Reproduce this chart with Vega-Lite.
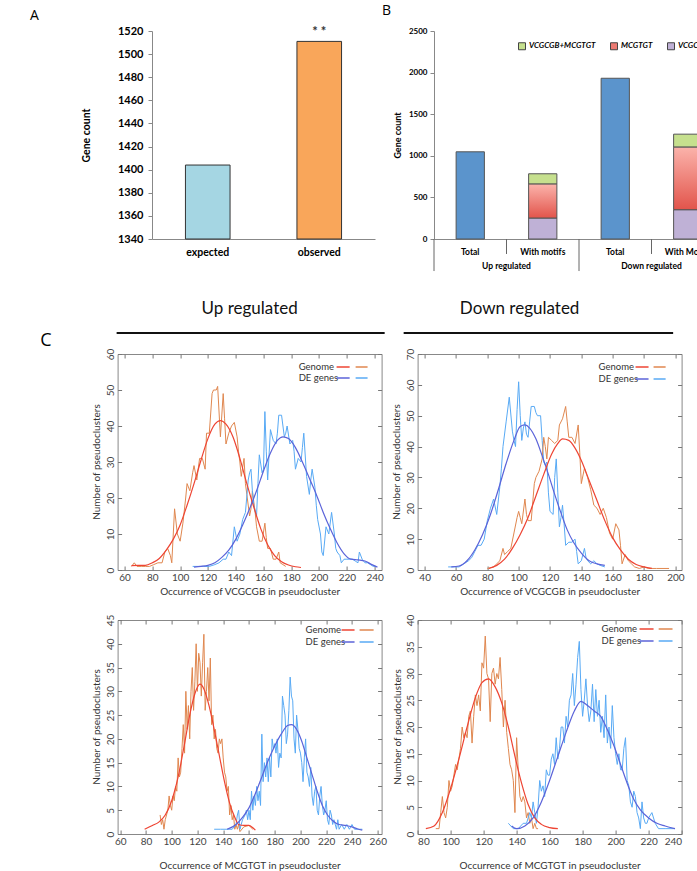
{
"$schema":"https://vega.github.io/schema/vega-lite/v6.json",
"padding":{"left":3,"top":4,"right":0,"bottom":0},
"spacing":27,
"config":{"view":{"stroke":null},"font":"Lato","axis":{"grid":false,"labelFont":"Lato","titleFont":"Lato","domainColor":"#888","tickColor":"#888"},"legend":{"labelFont":"Lato","titleFont":"Lato","padding":0},"title":{"font":"Lato"}},
"resolve":{"scale":{"fill":"independent","color":"independent","stroke":"independent"},"legend":{"fill":"independent","color":"independent","stroke":"independent"}},
"vconcat":[
{"hconcat":[
{"width":0,"height":0,"data":{"values":[]},"mark":"point"},
{"width":223,"height":208,
"title":{"text":"A","anchor":"start","frame":"group","dx":-122,"offset":2,"fontSize":14,"fontWeight":"normal","font":"Open Sans","color":"#000"},
"data":{"values":[{"cond":"expected","count":1404},{"cond":"observed","count":1511}]},
"layer":[
{"mark":{"type":"bar","stroke":"#333","strokeWidth":1},
"encoding":{
"x":{"field":"cond","type":"nominal","scale":{"paddingInner":0.6,"paddingOuter":0.3},"axis":{"title":null,"labelAngle":0,"labelFontWeight":"bold","labelFontSize":10.5,"labelColor":"#000","labelPadding":8,"ticks":false,"domainColor":"#888"}},
"y":{"field":"count","type":"quantitative","scale":{"domain":[1340,1520],"nice":false,"zero":false},"axis":{"values":[1340,1360,1380,1400,1420,1440,1460,1480,1500,1520],"format":"d","title":"Gene count","titleFontSize":10.5,"titleFontWeight":"bold","titleColor":"#000","titlePadding":26,"labelFontWeight":"bold","labelFontSize":11,"labelColor":"#000","tickSize":4,"labelPadding":5}},
"y2":{"datum":1340},
"fill":{"field":"cond","type":"nominal","scale":{"domain":["expected","observed"],"range":["#a5d6e3","#f9a65a"]},"legend":null}}},
{"transform":[{"filter":"datum.cond === 'observed'"}],
"mark":{"type":"text","text":"* *","fontSize":13,"fontWeight":"bold","baseline":"bottom","dy":-2,"font":"Lato","color":"#333"},
"encoding":{"x":{"field":"cond","type":"nominal","axis":null},"y":{"field":"count","type":"quantitative","axis":null}}}
],
"resolve":{"axis":{"x":"independent","y":"independent"}}},
{"width":290,"height":208,
"title":{"text":"B","anchor":"start","frame":"group","dx":-52,"offset":9,"fontSize":14,"fontWeight":"normal","font":"Open Sans","color":"#000"},
"layer":[
{"data":{"values":[
{"cat":"Up Total","type":"Total","count":1048,"ord":1},
{"cat":"Up With motifs","type":"VCGCGB","count":252,"ord":1},
{"cat":"Up With motifs","type":"MCGTGT","count":408,"ord":2},
{"cat":"Up With motifs","type":"VCGCGB+MCGTGT","count":124,"ord":3},
{"cat":"Down Total","type":"Total","count":1932,"ord":1},
{"cat":"Down With Motifs","type":"VCGCGB","count":352,"ord":1},
{"cat":"Down With Motifs","type":"MCGTGT","count":752,"ord":2},
{"cat":"Down With Motifs","type":"VCGCGB+MCGTGT","count":156,"ord":3}]},
"transform":[{"stack":"count","groupby":["cat"],"sort":[{"field":"ord","order":"ascending"}],"as":["y0","y1"]}],
"layer":[
{"transform":[{"filter":"datum.type !== 'MCGTGT'"}],
"mark":{"type":"bar","stroke":"#555","strokeWidth":1},
"encoding":{
"x":{"field":"cat","type":"nominal","scale":{"domain":["Up Total","Up With motifs","Down Total","Down With Motifs"],"paddingInner":0.61,"paddingOuter":0.305},"axis":{"title":null,"labelAngle":0,"labelExpr":"slice(datum.label, indexof(datum.label, ' ') + 1)","labelFontWeight":"bold","labelFontSize":8.5,"labelColor":"#000","labelPadding":8,"ticks":false,"domainColor":"#888"}},
"y":{"field":"y1","type":"quantitative","scale":{"domain":[0,2500],"nice":false},"axis":{"values":[0,500,1000,1500,2000,2500],"format":"d","title":"Gene count","titleFontSize":9,"titleFontWeight":"bold","titleColor":"#000","titlePadding":6,"labelFontWeight":"bold","labelFontSize":8,"labelColor":"#000","tickSize":4,"labelPadding":3}},
"y2":{"field":"y0"},
"fill":{"field":"type","type":"nominal","scale":{"domain":["VCGCGB+MCGTGT","MCGTGT","VCGCGB","Total"],"range":["#c6e08e","#ec7a72","#bfb1d6","#5b94cc"]},
"legend":{"values":["VCGCGB+MCGTGT","MCGTGT","VCGCGB"],"orient":"none","legendX":84,"legendY":11,"direction":"horizontal","title":null,"symbolType":"square","symbolSize":49,"symbolStrokeColor":"#444","symbolStrokeWidth":1,"labelFont":"Lato","labelFontSize":8,"labelFontStyle":"italic","labelFontWeight":"bold","labelColor":"#000","columnPadding":12,"labelOffset":3}}}},
{"transform":[{"filter":"datum.type === 'MCGTGT'"}],
"mark":{"type":"bar","stroke":"#555","strokeWidth":1,"fill":{"gradient":"linear","x1":0,"y1":0,"x2":0,"y2":1,"stops":[{"offset":0,"color":"#fbb3ab"},{"offset":1,"color":"#e2544b"}]}},
"encoding":{"x":{"field":"cat","type":"nominal","axis":null},"y":{"field":"y1","type":"quantitative","axis":null},"y2":{"field":"y0"}}}
],
"resolve":{"axis":{"x":"independent","y":"independent"}}},
{"data":{"values":[{"grp":"Up regulated"},{"grp":"Down regulated"}]},
"encoding":{"x":{"field":"grp","type":"nominal","scale":{"domain":["Up regulated","Down regulated"],"paddingInner":0,"paddingOuter":0},"axis":null}},
"layer":[
{"mark":{"type":"text","font":"Lato","fontWeight":"bold","fontSize":8.5,"baseline":"middle","color":"#000"},
"encoding":{"text":{"field":"grp"},"y":{"datum":-325,"type":"quantitative","scale":{"domain":[0,2500],"nice":false},"axis":null}}},
{"mark":{"type":"rule","color":"#666","strokeWidth":1},
"encoding":{"x":{"field":"grp","type":"nominal","bandPosition":0,"axis":null},"y":{"datum":0,"type":"quantitative","scale":{"domain":[0,2500],"nice":false},"axis":null},"y2":{"datum":-385}}},
{"mark":{"type":"rule","color":"#666","strokeWidth":1},
"encoding":{"y":{"datum":0,"type":"quantitative","scale":{"domain":[0,2500],"nice":false},"axis":null},"y2":{"datum":-180}}}
],
"resolve":{"axis":{"x":"independent","y":"independent"}}}
],
"resolve":{"scale":{"x":"independent"},"axis":{"x":"independent","y":"independent"}}}
],"spacing":7,
"resolve":{"scale":{"fill":"independent"},"legend":{"fill":"independent"}}},
{"hconcat":[
{"width":0,"height":0,"data":{"values":[]},"mark":"point"},
{"columns":2,"bounds":"flush","spacing":{"row":50,"column":36},
"resolve":{"scale":{"color":"independent","stroke":"independent"},"legend":{"color":"independent","stroke":"independent"}},
"concat":[
{"width":264,"height":216,"view":{"stroke":"#888"},
"title":{"text":"Up regulated","fontSize":17,"fontWeight":"normal","font":"Lato","color":"#111","offset":14,"anchor":"middle","frame":"group"},
"layer":[
{"data":{"values":[
{"s":"Genome","x":65,"y":1},{"s":"Genome","x":67,"y":2},{"s":"Genome","x":69,"y":1},{"s":"Genome","x":72,"y":1},{"s":"Genome","x":75,"y":1},{"s":"Genome","x":78,"y":1},{"s":"Genome","x":81,"y":1.5},{"s":"Genome","x":84,"y":2},{"s":"Genome","x":87,"y":2},{"s":"Genome","x":89,"y":5},{"s":"Genome","x":91,"y":6},{"s":"Genome","x":93,"y":4},{"s":"Genome","x":94,"y":2},{"s":"Genome","x":96,"y":17},{"s":"Genome","x":98,"y":10},{"s":"Genome","x":100,"y":8},{"s":"Genome","x":102,"y":13},{"s":"Genome","x":104,"y":20},{"s":"Genome","x":105,"y":24},{"s":"Genome","x":107,"y":22},{"s":"Genome","x":109,"y":27},{"s":"Genome","x":110,"y":29},{"s":"Genome","x":112,"y":25},{"s":"Genome","x":114,"y":31},{"s":"Genome","x":116,"y":31},{"s":"Genome","x":118,"y":28},{"s":"Genome","x":119,"y":38},{"s":"Genome","x":121,"y":38},{"s":"Genome","x":123,"y":49},{"s":"Genome","x":124,"y":50},{"s":"Genome","x":126,"y":50},{"s":"Genome","x":127,"y":51},{"s":"Genome","x":129,"y":37},{"s":"Genome","x":131,"y":49},{"s":"Genome","x":132,"y":42},{"s":"Genome","x":133,"y":35},{"s":"Genome","x":135,"y":38},{"s":"Genome","x":137,"y":40},{"s":"Genome","x":139,"y":41},{"s":"Genome","x":141,"y":37},{"s":"Genome","x":142,"y":33},{"s":"Genome","x":143,"y":30},{"s":"Genome","x":144,"y":26},{"s":"Genome","x":146,"y":31},{"s":"Genome","x":147,"y":24},{"s":"Genome","x":148,"y":21},{"s":"Genome","x":150,"y":15},{"s":"Genome","x":151,"y":17},{"s":"Genome","x":152,"y":22},{"s":"Genome","x":154,"y":16},{"s":"Genome","x":155,"y":12},{"s":"Genome","x":157,"y":8},{"s":"Genome","x":159,"y":8},{"s":"Genome","x":161,"y":13},{"s":"Genome","x":162,"y":9},{"s":"Genome","x":163,"y":6},{"s":"Genome","x":165,"y":6},{"s":"Genome","x":167,"y":3},{"s":"Genome","x":169,"y":3},{"s":"Genome","x":171,"y":5},{"s":"Genome","x":172,"y":2},{"s":"Genome","x":174,"y":1.5},{"s":"Genome","x":176,"y":1},
{"s":"DE genes","x":109,"y":1},{"s":"DE genes","x":113,"y":1},{"s":"DE genes","x":117,"y":1},{"s":"DE genes","x":121,"y":1},{"s":"DE genes","x":125,"y":1.5},{"s":"DE genes","x":128,"y":2},{"s":"DE genes","x":131,"y":3},{"s":"DE genes","x":133,"y":3},{"s":"DE genes","x":135,"y":5},{"s":"DE genes","x":137,"y":4},{"s":"DE genes","x":139,"y":12},{"s":"DE genes","x":141,"y":8},{"s":"DE genes","x":143,"y":10},{"s":"DE genes","x":145,"y":14},{"s":"DE genes","x":147,"y":16},{"s":"DE genes","x":149,"y":25},{"s":"DE genes","x":150,"y":27},{"s":"DE genes","x":151,"y":28},{"s":"DE genes","x":152,"y":22},{"s":"DE genes","x":153,"y":18},{"s":"DE genes","x":155,"y":15},{"s":"DE genes","x":156,"y":24},{"s":"DE genes","x":157,"y":32},{"s":"DE genes","x":159,"y":27},{"s":"DE genes","x":160,"y":28},{"s":"DE genes","x":161,"y":44},{"s":"DE genes","x":162,"y":33},{"s":"DE genes","x":163,"y":25},{"s":"DE genes","x":164,"y":32},{"s":"DE genes","x":165,"y":39},{"s":"DE genes","x":167,"y":36},{"s":"DE genes","x":169,"y":35},{"s":"DE genes","x":170,"y":38},{"s":"DE genes","x":171,"y":43},{"s":"DE genes","x":173,"y":43},{"s":"DE genes","x":175,"y":37},{"s":"DE genes","x":176,"y":38},{"s":"DE genes","x":177,"y":40},{"s":"DE genes","x":179,"y":35},{"s":"DE genes","x":181,"y":36},{"s":"DE genes","x":182,"y":33},{"s":"DE genes","x":183,"y":28},{"s":"DE genes","x":185,"y":31},{"s":"DE genes","x":187,"y":30},{"s":"DE genes","x":188,"y":34},{"s":"DE genes","x":189,"y":38},{"s":"DE genes","x":191,"y":26},{"s":"DE genes","x":193,"y":21},{"s":"DE genes","x":194,"y":25},{"s":"DE genes","x":195,"y":28},{"s":"DE genes","x":197,"y":23},{"s":"DE genes","x":198,"y":18},{"s":"DE genes","x":199,"y":14},{"s":"DE genes","x":201,"y":10},{"s":"DE genes","x":202,"y":5},{"s":"DE genes","x":203,"y":4},{"s":"DE genes","x":205,"y":12},{"s":"DE genes","x":207,"y":10},{"s":"DE genes","x":209,"y":16},{"s":"DE genes","x":211,"y":10},{"s":"DE genes","x":212,"y":6},{"s":"DE genes","x":213,"y":5},{"s":"DE genes","x":215,"y":4},{"s":"DE genes","x":216,"y":2},{"s":"DE genes","x":218,"y":3},{"s":"DE genes","x":220,"y":3},{"s":"DE genes","x":222,"y":3},{"s":"DE genes","x":224,"y":3},{"s":"DE genes","x":226,"y":2.5},{"s":"DE genes","x":228,"y":2},{"s":"DE genes","x":229,"y":5},{"s":"DE genes","x":231,"y":3},{"s":"DE genes","x":233,"y":2},{"s":"DE genes","x":235,"y":2},{"s":"DE genes","x":237,"y":1.5},{"s":"DE genes","x":239,"y":1},{"s":"DE genes","x":241,"y":1}]},
"mark":{"type":"line","strokeWidth":1},
"encoding":{
"x":{"field":"x","type":"quantitative","scale":{"domain":[55,245],"nice":false,"zero":false},"axis":{"orient":"bottom","values":[60,80,100,120,140,160,180,200,220,240],"title":"Occurrence of VCGCGB in pseudocluster","titleFontSize":10,"titleFontWeight":"normal","titleColor":"#333","titlePadding":4,"labelFontSize":10,"labelColor":"#444","labelPadding":6,"tickSize":-4,"tickColor":"#777","domain":false}},
"y":{"field":"y","type":"quantitative","scale":{"domain":[0,60],"nice":false},"axis":{"orient":"left","values":[0,10,20,30,40,50,60],"title":null,"labelFontSize":10,"labelColor":"#444","labelPadding":6,"labelAngle":-90,"labelAlign":"center","labelBaseline":"bottom","tickSize":-4,"tickColor":"#777","domain":false}},
"stroke":{"field":"s","type":"nominal","scale":{"domain":["Genome","DE genes"],"range":["#e0874f","#58aaf5"]},"legend":null}}},
{"data":{"values":[
{"g":"Genome","x":65,"y":1.2},{"g":"Genome","x":70,"y":1.3},{"g":"Genome","x":75,"y":1.3},{"g":"Genome","x":80,"y":2},{"g":"Genome","x":85,"y":3.2},{"g":"Genome","x":90,"y":5.5},{"g":"Genome","x":95,"y":8.5},{"g":"Genome","x":100,"y":12.5},{"g":"Genome","x":105,"y":18},{"g":"Genome","x":110,"y":24},{"g":"Genome","x":115,"y":30.5},{"g":"Genome","x":120,"y":36.5},{"g":"Genome","x":125,"y":40.5},{"g":"Genome","x":129,"y":41.5},{"g":"Genome","x":133,"y":40.5},{"g":"Genome","x":138,"y":37},{"g":"Genome","x":143,"y":31},{"g":"Genome","x":148,"y":24},{"g":"Genome","x":153,"y":17.5},{"g":"Genome","x":158,"y":11.5},{"g":"Genome","x":163,"y":7},{"g":"Genome","x":168,"y":4},{"g":"Genome","x":173,"y":2.3},{"g":"Genome","x":178,"y":1.4},{"g":"Genome","x":183,"y":0.9},{"g":"Genome","x":187,"y":0.7},
{"g":"DE genes","x":110,"y":0.8},{"g":"DE genes","x":115,"y":1},{"g":"DE genes","x":120,"y":1.3},{"g":"DE genes","x":125,"y":2},{"g":"DE genes","x":130,"y":3.5},{"g":"DE genes","x":135,"y":5.5},{"g":"DE genes","x":140,"y":8.5},{"g":"DE genes","x":145,"y":12.5},{"g":"DE genes","x":150,"y":17},{"g":"DE genes","x":155,"y":22},{"g":"DE genes","x":160,"y":27.5},{"g":"DE genes","x":165,"y":32.5},{"g":"DE genes","x":170,"y":36},{"g":"DE genes","x":174,"y":37},{"g":"DE genes","x":178,"y":36.5},{"g":"DE genes","x":183,"y":34},{"g":"DE genes","x":188,"y":30},{"g":"DE genes","x":193,"y":25.5},{"g":"DE genes","x":198,"y":21},{"g":"DE genes","x":203,"y":16},{"g":"DE genes","x":208,"y":11.5},{"g":"DE genes","x":213,"y":7.5},{"g":"DE genes","x":218,"y":4.5},{"g":"DE genes","x":223,"y":3},{"g":"DE genes","x":228,"y":2.8},{"g":"DE genes","x":233,"y":2.5},{"g":"DE genes","x":238,"y":1.5},{"g":"DE genes","x":242,"y":0.8}]},
"mark":{"type":"line","strokeWidth":1.2,"interpolate":"monotone"},
"encoding":{
"x":{"field":"x","type":"quantitative","scale":{"domain":[55,245],"nice":false,"zero":false},"axis":{"orient":"top","values":[60,80,100,120,140,160,180,200,220,240],"labels":false,"title":null,"tickSize":-4,"tickColor":"#777","domain":false}},
"y":{"field":"y","type":"quantitative","scale":{"domain":[0,60],"nice":false},"axis":{"orient":"right","values":[0,10,20,30,40,50,60],"labels":false,"title":null,"tickSize":-4,"tickColor":"#777","domain":false}},
"color":{"field":"g","type":"nominal","scale":{"domain":["Genome","DE genes"],"range":["#ee4433","#5b63d9"]},"legend":null}}},
{"data":{"values":[{}]},"mark":{"type":"rule","color":"#111","strokeWidth":2},
"encoding":{"x":{"datum":54.3,"type":"quantitative","scale":{"domain":[55,245],"nice":false,"zero":false},"axis":null},"x2":{"datum":247.2},"y":{"datum":65.8,"type":"quantitative","scale":{"domain":[0,60],"nice":false},"axis":null}}},
{"data":{"values":[{"t":"C"}]},"mark":{"type":"text","fontSize":18,"font":"Open Sans","align":"left","baseline":"middle","color":"#000"},
"encoding":{"text":{"field":"t"},"x":{"datum":-0.7,"type":"quantitative","scale":{"domain":[55,245],"nice":false,"zero":false},"axis":null},"y":{"datum":63.6,"type":"quantitative","scale":{"domain":[0,60],"nice":false},"axis":null}}},
{"data":{"values":[{"t":"Number of pseudoclusters"}]},"mark":{"type":"text","angle":270,"fontSize":10,"font":"Lato","align":"center","baseline":"middle","color":"#333"},
"encoding":{"text":{"field":"t"},"x":{"datum":39.9,"type":"quantitative","scale":{"domain":[55,245],"nice":false,"zero":false},"axis":null},"y":{"datum":30,"type":"quantitative","scale":{"domain":[0,60],"nice":false},"axis":null}}},
{"data":{"values":[{"t":"Genome"},{"t":"DE genes"}]},
"encoding":{"x":{"datum":185.3,"type":"quantitative","scale":{"domain":[55,245],"nice":false,"zero":false},"axis":null},"y":{"field":"t","type":"nominal","scale":{"type":"point","padding":0,"domain":["Genome","DE genes"],"range":[13,24]},"axis":null}},
"layer":[
{"mark":{"type":"text","font":"Lato","fontSize":9.5,"align":"left","baseline":"middle","color":"#333"},"encoding":{"text":{"field":"t"}}},
{"mark":{"type":"rule","strokeWidth":1.5},"encoding":{"x":{"datum":212.6,"type":"quantitative"},"x2":{"datum":222.0},"color":{"field":"t","type":"nominal","scale":{"domain":["Genome","DE genes"],"range":["#ee4433","#5b63d9"]},"legend":null}}},
{"mark":{"type":"rule","strokeWidth":1.5},"encoding":{"x":{"datum":226.3,"type":"quantitative"},"x2":{"datum":234.9},"stroke":{"field":"t","type":"nominal","scale":{"domain":["Genome","DE genes"],"range":["#e0874f","#58aaf5"]},"legend":null}}}
]}
],
"resolve":{"scale":{"y":"independent"}}},
{"width":264,"height":216,"view":{"stroke":"#888"},
"title":{"text":"Down regulated","fontSize":17,"fontWeight":"normal","font":"Lato","color":"#111","offset":14,"anchor":"middle","frame":"group","dx":-30},
"layer":[
{"data":{"values":[
{"s":"DE genes","x":55,"y":1},{"s":"DE genes","x":59,"y":1},{"s":"DE genes","x":62,"y":1},{"s":"DE genes","x":65,"y":2},{"s":"DE genes","x":68,"y":3},{"s":"DE genes","x":70,"y":4},{"s":"DE genes","x":72,"y":6},{"s":"DE genes","x":74,"y":8},{"s":"DE genes","x":76,"y":8},{"s":"DE genes","x":78,"y":10},{"s":"DE genes","x":80,"y":16},{"s":"DE genes","x":82,"y":20},{"s":"DE genes","x":84,"y":23},{"s":"DE genes","x":86,"y":18},{"s":"DE genes","x":88,"y":27},{"s":"DE genes","x":89,"y":33},{"s":"DE genes","x":90,"y":40},{"s":"DE genes","x":92,"y":48},{"s":"DE genes","x":94,"y":56},{"s":"DE genes","x":96,"y":45},{"s":"DE genes","x":97,"y":42},{"s":"DE genes","x":98,"y":40},{"s":"DE genes","x":99,"y":52},{"s":"DE genes","x":100,"y":61},{"s":"DE genes","x":101,"y":50},{"s":"DE genes","x":102,"y":42},{"s":"DE genes","x":103,"y":46},{"s":"DE genes","x":104,"y":48},{"s":"DE genes","x":105,"y":44},{"s":"DE genes","x":106,"y":43},{"s":"DE genes","x":107,"y":48},{"s":"DE genes","x":108,"y":53},{"s":"DE genes","x":110,"y":53},{"s":"DE genes","x":111,"y":51},{"s":"DE genes","x":112,"y":50},{"s":"DE genes","x":114,"y":50},{"s":"DE genes","x":115,"y":42},{"s":"DE genes","x":116,"y":35},{"s":"DE genes","x":117,"y":34},{"s":"DE genes","x":118,"y":35},{"s":"DE genes","x":119,"y":25},{"s":"DE genes","x":120,"y":19},{"s":"DE genes","x":122,"y":18},{"s":"DE genes","x":123,"y":30},{"s":"DE genes","x":124,"y":36},{"s":"DE genes","x":125,"y":25},{"s":"DE genes","x":126,"y":14},{"s":"DE genes","x":127,"y":17},{"s":"DE genes","x":128,"y":21},{"s":"DE genes","x":129,"y":15},{"s":"DE genes","x":130,"y":8},{"s":"DE genes","x":132,"y":9},{"s":"DE genes","x":134,"y":9},{"s":"DE genes","x":136,"y":10},{"s":"DE genes","x":137,"y":6},{"s":"DE genes","x":138,"y":2},{"s":"DE genes","x":140,"y":3},{"s":"DE genes","x":142,"y":7},{"s":"DE genes","x":143,"y":4},{"s":"DE genes","x":144,"y":3},{"s":"DE genes","x":146,"y":2},{"s":"DE genes","x":148,"y":3},{"s":"DE genes","x":150,"y":2},{"s":"DE genes","x":152,"y":1.5},{"s":"DE genes","x":155,"y":1},
{"s":"Genome","x":80,"y":0.5},{"s":"Genome","x":84,"y":1},{"s":"Genome","x":86,"y":2},{"s":"Genome","x":88,"y":3},{"s":"Genome","x":90,"y":7},{"s":"Genome","x":91,"y":5},{"s":"Genome","x":93,"y":6},{"s":"Genome","x":95,"y":7},{"s":"Genome","x":97,"y":12},{"s":"Genome","x":99,"y":17},{"s":"Genome","x":100,"y":19},{"s":"Genome","x":101,"y":17},{"s":"Genome","x":102,"y":15},{"s":"Genome","x":104,"y":23},{"s":"Genome","x":105,"y":18},{"s":"Genome","x":106,"y":16},{"s":"Genome","x":108,"y":16},{"s":"Genome","x":110,"y":28},{"s":"Genome","x":111,"y":30},{"s":"Genome","x":113,"y":32},{"s":"Genome","x":115,"y":36},{"s":"Genome","x":116,"y":43},{"s":"Genome","x":117,"y":40},{"s":"Genome","x":118,"y":36},{"s":"Genome","x":119,"y":43},{"s":"Genome","x":121,"y":42},{"s":"Genome","x":123,"y":41},{"s":"Genome","x":125,"y":42},{"s":"Genome","x":126,"y":47},{"s":"Genome","x":128,"y":49},{"s":"Genome","x":130,"y":53},{"s":"Genome","x":131,"y":48},{"s":"Genome","x":132,"y":43},{"s":"Genome","x":134,"y":43},{"s":"Genome","x":136,"y":41},{"s":"Genome","x":138,"y":47},{"s":"Genome","x":139,"y":38},{"s":"Genome","x":140,"y":28},{"s":"Genome","x":142,"y":33},{"s":"Genome","x":144,"y":30},{"s":"Genome","x":146,"y":26},{"s":"Genome","x":148,"y":21},{"s":"Genome","x":150,"y":20},{"s":"Genome","x":152,"y":18},{"s":"Genome","x":154,"y":20},{"s":"Genome","x":156,"y":17},{"s":"Genome","x":158,"y":12},{"s":"Genome","x":160,"y":10},{"s":"Genome","x":162,"y":15},{"s":"Genome","x":164,"y":13},{"s":"Genome","x":165,"y":8},{"s":"Genome","x":166,"y":2},{"s":"Genome","x":168,"y":5},{"s":"Genome","x":170,"y":3},{"s":"Genome","x":172,"y":2},{"s":"Genome","x":174,"y":1},{"s":"Genome","x":177,"y":0.5},{"s":"Genome","x":180,"y":1},{"s":"Genome","x":183,"y":0.5},{"s":"Genome","x":188,"y":0.5},{"s":"Genome","x":196,"y":0.5}]},
"mark":{"type":"line","strokeWidth":1},
"encoding":{
"x":{"field":"x","type":"quantitative","scale":{"domain":[35.5,204],"nice":false,"zero":false},"axis":{"orient":"bottom","values":[40,60,80,100,120,140,160,180,200],"title":"Occurrence of VCGCGB in pseudocluster","titleFontSize":10,"titleFontWeight":"normal","titleColor":"#333","titlePadding":4,"labelFontSize":10,"labelColor":"#444","labelPadding":6,"tickSize":-4,"tickColor":"#777","domain":false}},
"y":{"field":"y","type":"quantitative","scale":{"domain":[0,70],"nice":false},"axis":{"orient":"left","values":[0,10,20,30,40,50,60,70],"title":null,"labelFontSize":10,"labelColor":"#444","labelPadding":6,"labelAngle":-90,"labelAlign":"center","labelBaseline":"bottom","tickSize":-4,"tickColor":"#777","domain":false}},
"stroke":{"field":"s","type":"nominal","scale":{"domain":["Genome","DE genes"],"range":["#e0874f","#58aaf5"]},"legend":null}}},
{"data":{"values":[
{"g":"DE genes","x":57,"y":1},{"g":"DE genes","x":62,"y":1.3},{"g":"DE genes","x":67,"y":3},{"g":"DE genes","x":72,"y":6.5},{"g":"DE genes","x":77,"y":11.5},{"g":"DE genes","x":82,"y":18},{"g":"DE genes","x":87,"y":26},{"g":"DE genes","x":92,"y":34.5},{"g":"DE genes","x":97,"y":42},{"g":"DE genes","x":101,"y":46.5},{"g":"DE genes","x":104,"y":47},{"g":"DE genes","x":107,"y":46},{"g":"DE genes","x":111,"y":42.5},{"g":"DE genes","x":115,"y":37},{"g":"DE genes","x":119,"y":31},{"g":"DE genes","x":123,"y":24.5},{"g":"DE genes","x":127,"y":18.5},{"g":"DE genes","x":131,"y":13},{"g":"DE genes","x":135,"y":9},{"g":"DE genes","x":140,"y":5.5},{"g":"DE genes","x":145,"y":3},{"g":"DE genes","x":150,"y":2},{"g":"DE genes","x":155,"y":1.5},
{"g":"Genome","x":81,"y":0.5},{"g":"Genome","x":86,"y":1.5},{"g":"Genome","x":91,"y":3.5},{"g":"Genome","x":96,"y":7},{"g":"Genome","x":101,"y":11.5},{"g":"Genome","x":106,"y":17},{"g":"Genome","x":111,"y":24},{"g":"Genome","x":116,"y":31},{"g":"Genome","x":121,"y":37.5},{"g":"Genome","x":125,"y":41},{"g":"Genome","x":128,"y":42.5},{"g":"Genome","x":132,"y":42},{"g":"Genome","x":136,"y":39.5},{"g":"Genome","x":140,"y":35.5},{"g":"Genome","x":145,"y":29},{"g":"Genome","x":150,"y":22.5},{"g":"Genome","x":155,"y":16},{"g":"Genome","x":160,"y":10.5},{"g":"Genome","x":165,"y":6.5},{"g":"Genome","x":170,"y":3.5},{"g":"Genome","x":175,"y":1.8},{"g":"Genome","x":180,"y":1},{"g":"Genome","x":185,"y":0.5}]},
"mark":{"type":"line","strokeWidth":1.2,"interpolate":"monotone"},
"encoding":{
"x":{"field":"x","type":"quantitative","scale":{"domain":[35.5,204],"nice":false,"zero":false},"axis":{"orient":"top","values":[40,60,80,100,120,140,160,180,200],"labels":false,"title":null,"tickSize":-4,"tickColor":"#777","domain":false}},
"y":{"field":"y","type":"quantitative","scale":{"domain":[0,70],"nice":false},"axis":{"orient":"right","values":[0,10,20,30,40,50,60,70],"labels":false,"title":null,"tickSize":-4,"tickColor":"#777","domain":false}},
"color":{"field":"g","type":"nominal","scale":{"domain":["Genome","DE genes"],"range":["#ee4433","#5b63d9"]},"legend":null}}},
{"data":{"values":[{}]},"mark":{"type":"rule","color":"#111","strokeWidth":2},
"encoding":{"x":{"datum":26.6,"type":"quantitative","scale":{"domain":[35.5,204],"nice":false,"zero":false},"axis":null},"x2":{"datum":198.6},"y":{"datum":76.8,"type":"quantitative","scale":{"domain":[0,70],"nice":false},"axis":null}}},
{"data":{"values":[{"t":"Number of pseudoclusters"}]},"mark":{"type":"text","angle":270,"fontSize":10,"font":"Lato","align":"center","baseline":"middle","color":"#333"},
"encoding":{"text":{"field":"t"},"x":{"datum":22.1,"type":"quantitative","scale":{"domain":[35.5,204],"nice":false,"zero":false},"axis":null},"y":{"datum":35,"type":"quantitative","scale":{"domain":[0,70],"nice":false},"axis":null}}},
{"data":{"values":[{"t":"Genome"},{"t":"DE genes"}]},
"encoding":{"x":{"datum":151.0,"type":"quantitative","scale":{"domain":[35.5,204],"nice":false,"zero":false},"axis":null},"y":{"field":"t","type":"nominal","scale":{"type":"point","padding":0,"domain":["Genome","DE genes"],"range":[13,25]},"axis":null}},
"layer":[
{"mark":{"type":"text","font":"Lato","fontSize":9.5,"align":"left","baseline":"middle","color":"#333"},"encoding":{"text":{"field":"t"}}},
{"mark":{"type":"rule","strokeWidth":1.5},"encoding":{"x":{"datum":174.6,"type":"quantitative"},"x2":{"datum":182.9},"color":{"field":"t","type":"nominal","scale":{"domain":["Genome","DE genes"],"range":["#ee4433","#5b63d9"]},"legend":null}}},
{"mark":{"type":"rule","strokeWidth":1.5},"encoding":{"x":{"datum":186.1,"type":"quantitative"},"x2":{"datum":193.8},"stroke":{"field":"t","type":"nominal","scale":{"domain":["Genome","DE genes"],"range":["#e0874f","#58aaf5"]},"legend":null}}}
]}
],
"resolve":{"scale":{"y":"independent"}}},
{"width":264,"height":214,"view":{"stroke":"#888"},
"layer":[
{"data":{"values":[
{"s":"Genome","x":91,"y":4},{"s":"Genome","x":92,"y":2},{"s":"Genome","x":93,"y":3},{"s":"Genome","x":94,"y":1},{"s":"Genome","x":95,"y":3},{"s":"Genome","x":97,"y":5},{"s":"Genome","x":98,"y":8},{"s":"Genome","x":99,"y":6},{"s":"Genome","x":100,"y":5},{"s":"Genome","x":101,"y":8},{"s":"Genome","x":102,"y":7},{"s":"Genome","x":103,"y":10},{"s":"Genome","x":104,"y":9},{"s":"Genome","x":105,"y":16},{"s":"Genome","x":106,"y":12},{"s":"Genome","x":107,"y":13},{"s":"Genome","x":108,"y":18},{"s":"Genome","x":109,"y":23},{"s":"Genome","x":110,"y":17},{"s":"Genome","x":111,"y":30},{"s":"Genome","x":112,"y":22},{"s":"Genome","x":113,"y":27},{"s":"Genome","x":114,"y":20},{"s":"Genome","x":115,"y":30},{"s":"Genome","x":116,"y":35},{"s":"Genome","x":117,"y":26},{"s":"Genome","x":118,"y":32},{"s":"Genome","x":119,"y":40},{"s":"Genome","x":120,"y":30},{"s":"Genome","x":121,"y":38},{"s":"Genome","x":122,"y":36},{"s":"Genome","x":123,"y":29},{"s":"Genome","x":124,"y":36},{"s":"Genome","x":125,"y":42},{"s":"Genome","x":126,"y":26},{"s":"Genome","x":127,"y":30},{"s":"Genome","x":128,"y":35},{"s":"Genome","x":129,"y":28},{"s":"Genome","x":130,"y":37},{"s":"Genome","x":131,"y":23},{"s":"Genome","x":132,"y":25},{"s":"Genome","x":133,"y":20},{"s":"Genome","x":134,"y":22},{"s":"Genome","x":135,"y":18},{"s":"Genome","x":136,"y":17},{"s":"Genome","x":137,"y":20},{"s":"Genome","x":138,"y":19},{"s":"Genome","x":139,"y":20},{"s":"Genome","x":140,"y":16},{"s":"Genome","x":141,"y":13},{"s":"Genome","x":142,"y":12},{"s":"Genome","x":143,"y":9},{"s":"Genome","x":144,"y":10},{"s":"Genome","x":145,"y":4},{"s":"Genome","x":146,"y":6},{"s":"Genome","x":147,"y":3},{"s":"Genome","x":148,"y":4},{"s":"Genome","x":149,"y":1},{"s":"Genome","x":150,"y":2},{"s":"Genome","x":151,"y":1},{"s":"Genome","x":152,"y":2},{"s":"Genome","x":153,"y":0.5},{"s":"Genome","x":156,"y":1.5},{"s":"Genome","x":160,"y":1.8},{"s":"Genome","x":163,"y":1},
{"s":"DE genes","x":133,"y":1},{"s":"DE genes","x":138,"y":1},{"s":"DE genes","x":143,"y":1},{"s":"DE genes","x":147,"y":1},{"s":"DE genes","x":150,"y":2},{"s":"DE genes","x":151,"y":4},{"s":"DE genes","x":152,"y":5},{"s":"DE genes","x":153,"y":1},{"s":"DE genes","x":155,"y":3},{"s":"DE genes","x":157,"y":4},{"s":"DE genes","x":158,"y":5},{"s":"DE genes","x":159,"y":3},{"s":"DE genes","x":160,"y":5},{"s":"DE genes","x":161,"y":3},{"s":"DE genes","x":162,"y":9},{"s":"DE genes","x":163,"y":5},{"s":"DE genes","x":164,"y":8},{"s":"DE genes","x":165,"y":6},{"s":"DE genes","x":166,"y":10},{"s":"DE genes","x":167,"y":7},{"s":"DE genes","x":168,"y":9},{"s":"DE genes","x":169,"y":6},{"s":"DE genes","x":170,"y":21},{"s":"DE genes","x":171,"y":11},{"s":"DE genes","x":172,"y":15},{"s":"DE genes","x":173,"y":12},{"s":"DE genes","x":174,"y":16},{"s":"DE genes","x":175,"y":11},{"s":"DE genes","x":176,"y":16},{"s":"DE genes","x":177,"y":12},{"s":"DE genes","x":178,"y":20},{"s":"DE genes","x":179,"y":18},{"s":"DE genes","x":180,"y":19},{"s":"DE genes","x":181,"y":17},{"s":"DE genes","x":182,"y":20},{"s":"DE genes","x":183,"y":14},{"s":"DE genes","x":184,"y":17},{"s":"DE genes","x":185,"y":16},{"s":"DE genes","x":186,"y":29},{"s":"DE genes","x":187,"y":27},{"s":"DE genes","x":188,"y":25},{"s":"DE genes","x":189,"y":19},{"s":"DE genes","x":190,"y":21},{"s":"DE genes","x":191,"y":26},{"s":"DE genes","x":192,"y":33},{"s":"DE genes","x":193,"y":29},{"s":"DE genes","x":194,"y":28},{"s":"DE genes","x":195,"y":20},{"s":"DE genes","x":196,"y":17},{"s":"DE genes","x":197,"y":25},{"s":"DE genes","x":198,"y":22},{"s":"DE genes","x":199,"y":18},{"s":"DE genes","x":200,"y":17},{"s":"DE genes","x":201,"y":15},{"s":"DE genes","x":202,"y":11},{"s":"DE genes","x":203,"y":16},{"s":"DE genes","x":204,"y":20},{"s":"DE genes","x":205,"y":13},{"s":"DE genes","x":206,"y":12},{"s":"DE genes","x":207,"y":10},{"s":"DE genes","x":208,"y":14},{"s":"DE genes","x":209,"y":8},{"s":"DE genes","x":210,"y":6},{"s":"DE genes","x":211,"y":9},{"s":"DE genes","x":212,"y":10},{"s":"DE genes","x":213,"y":5},{"s":"DE genes","x":214,"y":4},{"s":"DE genes","x":215,"y":8},{"s":"DE genes","x":216,"y":10},{"s":"DE genes","x":217,"y":6},{"s":"DE genes","x":218,"y":4},{"s":"DE genes","x":219,"y":5},{"s":"DE genes","x":220,"y":7},{"s":"DE genes","x":221,"y":3},{"s":"DE genes","x":222,"y":2},{"s":"DE genes","x":223,"y":5},{"s":"DE genes","x":224,"y":4},{"s":"DE genes","x":225,"y":2},{"s":"DE genes","x":226,"y":3},{"s":"DE genes","x":228,"y":1},{"s":"DE genes","x":229,"y":3},{"s":"DE genes","x":230,"y":1},{"s":"DE genes","x":232,"y":2},{"s":"DE genes","x":234,"y":1},{"s":"DE genes","x":236,"y":2},{"s":"DE genes","x":238,"y":1},{"s":"DE genes","x":240,"y":2},{"s":"DE genes","x":242,"y":1},{"s":"DE genes","x":245,"y":1},{"s":"DE genes","x":248,"y":1}]},
"mark":{"type":"line","strokeWidth":1},
"encoding":{
"x":{"field":"x","type":"quantitative","scale":{"domain":[58,263],"nice":false,"zero":false},"axis":{"orient":"bottom","values":[60,80,100,120,140,160,180,200,220,240,260],"title":"Occurrence of MCGTGT in pseudocluster","titleFontSize":10,"titleFontWeight":"normal","titleColor":"#333","titlePadding":14,"labelFontSize":10,"labelColor":"#444","labelPadding":6,"tickSize":-4,"tickColor":"#777","domain":false}},
"y":{"field":"y","type":"quantitative","scale":{"domain":[0,45],"nice":false},"axis":{"orient":"left","values":[0,5,10,15,20,25,30,35,40,45],"title":null,"labelFontSize":10,"labelColor":"#444","labelPadding":6,"labelAngle":-90,"labelAlign":"center","labelBaseline":"bottom","tickSize":-4,"tickColor":"#777","domain":false}},
"stroke":{"field":"s","type":"nominal","scale":{"domain":["Genome","DE genes"],"range":["#e0874f","#58aaf5"]},"legend":null}}},
{"data":{"values":[
{"g":"Genome","x":79,"y":1},{"g":"Genome","x":85,"y":1.8},{"g":"Genome","x":90,"y":2.5},{"g":"Genome","x":95,"y":4},{"g":"Genome","x":100,"y":7},{"g":"Genome","x":105,"y":12},{"g":"Genome","x":110,"y":19},{"g":"Genome","x":114,"y":25},{"g":"Genome","x":118,"y":29.5},{"g":"Genome","x":122,"y":31.5},{"g":"Genome","x":125,"y":30.5},{"g":"Genome","x":129,"y":27},{"g":"Genome","x":133,"y":22},{"g":"Genome","x":137,"y":16.5},{"g":"Genome","x":141,"y":11},{"g":"Genome","x":145,"y":6.5},{"g":"Genome","x":149,"y":3.5},{"g":"Genome","x":152,"y":2},{"g":"Genome","x":156,"y":1.8},{"g":"Genome","x":160,"y":1.8},{"g":"Genome","x":163,"y":1.3},{"g":"Genome","x":165,"y":0.8},
{"g":"DE genes","x":143,"y":1},{"g":"DE genes","x":150,"y":2},{"g":"DE genes","x":155,"y":3.5},{"g":"DE genes","x":160,"y":5.5},{"g":"DE genes","x":165,"y":8.5},{"g":"DE genes","x":170,"y":12},{"g":"DE genes","x":175,"y":15.5},{"g":"DE genes","x":180,"y":18.5},{"g":"DE genes","x":185,"y":21},{"g":"DE genes","x":190,"y":22.8},{"g":"DE genes","x":193,"y":23},{"g":"DE genes","x":197,"y":22},{"g":"DE genes","x":201,"y":19.5},{"g":"DE genes","x":205,"y":16},{"g":"DE genes","x":209,"y":12.5},{"g":"DE genes","x":213,"y":9},{"g":"DE genes","x":217,"y":6},{"g":"DE genes","x":221,"y":4},{"g":"DE genes","x":225,"y":2.8},{"g":"DE genes","x":230,"y":2},{"g":"DE genes","x":235,"y":1.8},{"g":"DE genes","x":240,"y":1.5},{"g":"DE genes","x":244,"y":1.1},{"g":"DE genes","x":248,"y":0.8}]},
"mark":{"type":"line","strokeWidth":1.2,"interpolate":"monotone"},
"encoding":{
"x":{"field":"x","type":"quantitative","scale":{"domain":[58,263],"nice":false,"zero":false},"axis":{"orient":"top","values":[60,80,100,120,140,160,180,200,220,240,260],"labels":false,"title":null,"tickSize":-4,"tickColor":"#777","domain":false}},
"y":{"field":"y","type":"quantitative","scale":{"domain":[0,45],"nice":false},"axis":{"orient":"right","values":[0,5,10,15,20,25,30,35,40,45],"labels":false,"title":null,"tickSize":-4,"tickColor":"#777","domain":false}},
"color":{"field":"g","type":"nominal","scale":{"domain":["Genome","DE genes"],"range":["#ee4433","#5b63d9"]},"legend":null}}},
{"data":{"values":[{"t":"Number of pseudoclusters"}]},"mark":{"type":"text","angle":270,"fontSize":10,"font":"Lato","align":"center","baseline":"middle","color":"#333"},
"encoding":{"text":{"field":"t"},"x":{"datum":41.7,"type":"quantitative","scale":{"domain":[58,263],"nice":false,"zero":false},"axis":null},"y":{"datum":22.5,"type":"quantitative","scale":{"domain":[0,45],"nice":false},"axis":null}}},
{"data":{"values":[{"t":"Genome"},{"t":"DE genes"}]},
"encoding":{"x":{"datum":204.0,"type":"quantitative","scale":{"domain":[58,263],"nice":false,"zero":false},"axis":null},"y":{"field":"t","type":"nominal","scale":{"type":"point","padding":0,"domain":["Genome","DE genes"],"range":[10,22]},"axis":null}},
"layer":[
{"mark":{"type":"text","font":"Lato","fontSize":9.5,"align":"left","baseline":"middle","color":"#333"},"encoding":{"text":{"field":"t"}}},
{"mark":{"type":"rule","strokeWidth":1.5},"encoding":{"x":{"datum":231.9,"type":"quantitative"},"x2":{"datum":242.0},"color":{"field":"t","type":"nominal","scale":{"domain":["Genome","DE genes"],"range":["#ee4433","#5b63d9"]},"legend":null}}},
{"mark":{"type":"rule","strokeWidth":1.5},"encoding":{"x":{"datum":245.9,"type":"quantitative"},"x2":{"datum":256.8},"stroke":{"field":"t","type":"nominal","scale":{"domain":["Genome","DE genes"],"range":["#e0874f","#58aaf5"]},"legend":null}}}
]}
],
"resolve":{"scale":{"y":"independent"}}},
{"width":264,"height":214,"view":{"stroke":"#888"},
"layer":[
{"data":{"values":[
{"s":"Genome","x":91,"y":1},{"s":"Genome","x":93,"y":1},{"s":"Genome","x":94,"y":4},{"s":"Genome","x":95,"y":7},{"s":"Genome","x":96,"y":4},{"s":"Genome","x":97,"y":3},{"s":"Genome","x":98,"y":5},{"s":"Genome","x":99,"y":10},{"s":"Genome","x":100,"y":8},{"s":"Genome","x":101,"y":9},{"s":"Genome","x":102,"y":11},{"s":"Genome","x":103,"y":13},{"s":"Genome","x":104,"y":12},{"s":"Genome","x":105,"y":14},{"s":"Genome","x":106,"y":16},{"s":"Genome","x":107,"y":20},{"s":"Genome","x":108,"y":18},{"s":"Genome","x":109,"y":19},{"s":"Genome","x":110,"y":18},{"s":"Genome","x":111,"y":22},{"s":"Genome","x":112,"y":23},{"s":"Genome","x":113,"y":17},{"s":"Genome","x":114,"y":22},{"s":"Genome","x":115,"y":26},{"s":"Genome","x":116,"y":24},{"s":"Genome","x":117,"y":26},{"s":"Genome","x":118,"y":23},{"s":"Genome","x":119,"y":32},{"s":"Genome","x":120,"y":31},{"s":"Genome","x":121,"y":37},{"s":"Genome","x":122,"y":30},{"s":"Genome","x":123,"y":29},{"s":"Genome","x":124,"y":21},{"s":"Genome","x":125,"y":30},{"s":"Genome","x":126,"y":31},{"s":"Genome","x":127,"y":28},{"s":"Genome","x":128,"y":30},{"s":"Genome","x":129,"y":29},{"s":"Genome","x":130,"y":33},{"s":"Genome","x":131,"y":27},{"s":"Genome","x":132,"y":20},{"s":"Genome","x":133,"y":25},{"s":"Genome","x":134,"y":19},{"s":"Genome","x":135,"y":16},{"s":"Genome","x":136,"y":13},{"s":"Genome","x":137,"y":12},{"s":"Genome","x":138,"y":10},{"s":"Genome","x":139,"y":4},{"s":"Genome","x":140,"y":18},{"s":"Genome","x":141,"y":12},{"s":"Genome","x":142,"y":7},{"s":"Genome","x":143,"y":6},{"s":"Genome","x":144,"y":7},{"s":"Genome","x":145,"y":6},{"s":"Genome","x":146,"y":3},{"s":"Genome","x":147,"y":4},{"s":"Genome","x":148,"y":2},{"s":"Genome","x":149,"y":3},{"s":"Genome","x":150,"y":1},{"s":"Genome","x":151,"y":2},{"s":"Genome","x":152,"y":1},{"s":"Genome","x":153,"y":1},
{"s":"DE genes","x":135,"y":2},{"s":"DE genes","x":138,"y":1},{"s":"DE genes","x":141,"y":1},{"s":"DE genes","x":144,"y":2},{"s":"DE genes","x":146,"y":2},{"s":"DE genes","x":148,"y":4},{"s":"DE genes","x":149,"y":3},{"s":"DE genes","x":150,"y":6},{"s":"DE genes","x":151,"y":4},{"s":"DE genes","x":152,"y":2},{"s":"DE genes","x":153,"y":5},{"s":"DE genes","x":154,"y":10},{"s":"DE genes","x":155,"y":8},{"s":"DE genes","x":156,"y":9},{"s":"DE genes","x":157,"y":7},{"s":"DE genes","x":158,"y":12},{"s":"DE genes","x":159,"y":11},{"s":"DE genes","x":160,"y":11},{"s":"DE genes","x":161,"y":14},{"s":"DE genes","x":162,"y":15},{"s":"DE genes","x":163,"y":13},{"s":"DE genes","x":164,"y":18},{"s":"DE genes","x":165,"y":14},{"s":"DE genes","x":166,"y":16},{"s":"DE genes","x":167,"y":20},{"s":"DE genes","x":168,"y":20},{"s":"DE genes","x":169,"y":17},{"s":"DE genes","x":170,"y":22},{"s":"DE genes","x":171,"y":20},{"s":"DE genes","x":172,"y":25},{"s":"DE genes","x":173,"y":26},{"s":"DE genes","x":174,"y":30},{"s":"DE genes","x":175,"y":24},{"s":"DE genes","x":176,"y":28},{"s":"DE genes","x":177,"y":33},{"s":"DE genes","x":178,"y":36},{"s":"DE genes","x":179,"y":27},{"s":"DE genes","x":180,"y":22},{"s":"DE genes","x":181,"y":25},{"s":"DE genes","x":182,"y":29},{"s":"DE genes","x":183,"y":24},{"s":"DE genes","x":184,"y":21},{"s":"DE genes","x":185,"y":23},{"s":"DE genes","x":186,"y":28},{"s":"DE genes","x":187,"y":21},{"s":"DE genes","x":188,"y":27},{"s":"DE genes","x":189,"y":22},{"s":"DE genes","x":190,"y":25},{"s":"DE genes","x":191,"y":19},{"s":"DE genes","x":192,"y":22},{"s":"DE genes","x":193,"y":18},{"s":"DE genes","x":194,"y":26},{"s":"DE genes","x":195,"y":17},{"s":"DE genes","x":196,"y":20},{"s":"DE genes","x":197,"y":16},{"s":"DE genes","x":198,"y":24},{"s":"DE genes","x":199,"y":18},{"s":"DE genes","x":200,"y":15},{"s":"DE genes","x":201,"y":13},{"s":"DE genes","x":202,"y":15},{"s":"DE genes","x":203,"y":12},{"s":"DE genes","x":204,"y":12},{"s":"DE genes","x":205,"y":16},{"s":"DE genes","x":206,"y":18},{"s":"DE genes","x":207,"y":10},{"s":"DE genes","x":208,"y":9},{"s":"DE genes","x":209,"y":6},{"s":"DE genes","x":210,"y":5},{"s":"DE genes","x":211,"y":8},{"s":"DE genes","x":212,"y":7},{"s":"DE genes","x":213,"y":4},{"s":"DE genes","x":214,"y":3},{"s":"DE genes","x":215,"y":1},{"s":"DE genes","x":216,"y":6},{"s":"DE genes","x":217,"y":3},{"s":"DE genes","x":218,"y":2},{"s":"DE genes","x":219,"y":2},{"s":"DE genes","x":220,"y":3},{"s":"DE genes","x":222,"y":4},{"s":"DE genes","x":224,"y":2},{"s":"DE genes","x":226,"y":1},{"s":"DE genes","x":230,"y":1},{"s":"DE genes","x":236,"y":1}]},
"mark":{"type":"line","strokeWidth":1},
"encoding":{
"x":{"field":"x","type":"quantitative","scale":{"domain":[80,240],"nice":false,"zero":false},"axis":{"orient":"bottom","values":[80,100,120,140,160,180,200,220,240],"title":"Occurrence of MCGTGT in pseudocluster","titleFontSize":10,"titleFontWeight":"normal","titleColor":"#333","titlePadding":14,"labelFontSize":10,"labelColor":"#444","labelPadding":6,"tickSize":-4,"tickColor":"#777","domain":false}},
"y":{"field":"y","type":"quantitative","scale":{"domain":[0,40],"nice":false},"axis":{"orient":"left","values":[0,5,10,15,20,25,30,35,40],"title":null,"labelFontSize":10,"labelColor":"#444","labelPadding":6,"labelAngle":-90,"labelAlign":"center","labelBaseline":"bottom","tickSize":-4,"tickColor":"#777","domain":false}},
"stroke":{"field":"s","type":"nominal","scale":{"domain":["Genome","DE genes"],"range":["#e0874f","#58aaf5"]},"legend":null}}},
{"data":{"values":[
{"g":"Genome","x":85,"y":1},{"g":"Genome","x":90,"y":1.5},{"g":"Genome","x":95,"y":4},{"g":"Genome","x":100,"y":8.5},{"g":"Genome","x":105,"y":14},{"g":"Genome","x":110,"y":20},{"g":"Genome","x":115,"y":25.5},{"g":"Genome","x":119,"y":28.3},{"g":"Genome","x":123,"y":29},{"g":"Genome","x":127,"y":27.5},{"g":"Genome","x":131,"y":24.5},{"g":"Genome","x":135,"y":20},{"g":"Genome","x":139,"y":14.5},{"g":"Genome","x":143,"y":9.5},{"g":"Genome","x":147,"y":5.5},{"g":"Genome","x":151,"y":3},{"g":"Genome","x":155,"y":1.8},{"g":"Genome","x":160,"y":1.2},{"g":"Genome","x":165,"y":1},
{"g":"DE genes","x":137,"y":1.5},{"g":"DE genes","x":140,"y":1},{"g":"DE genes","x":145,"y":1.5},{"g":"DE genes","x":150,"y":3},{"g":"DE genes","x":155,"y":6},{"g":"DE genes","x":160,"y":10},{"g":"DE genes","x":165,"y":14.5},{"g":"DE genes","x":170,"y":19},{"g":"DE genes","x":175,"y":23},{"g":"DE genes","x":179,"y":24.8},{"g":"DE genes","x":183,"y":24},{"g":"DE genes","x":187,"y":23},{"g":"DE genes","x":191,"y":22},{"g":"DE genes","x":195,"y":19.5},{"g":"DE genes","x":199,"y":16.5},{"g":"DE genes","x":203,"y":13},{"g":"DE genes","x":207,"y":9.5},{"g":"DE genes","x":211,"y":6.5},{"g":"DE genes","x":215,"y":4.5},{"g":"DE genes","x":220,"y":3},{"g":"DE genes","x":225,"y":2},{"g":"DE genes","x":230,"y":1.5},{"g":"DE genes","x":236,"y":1}]},
"mark":{"type":"line","strokeWidth":1.2,"interpolate":"monotone"},
"encoding":{
"x":{"field":"x","type":"quantitative","scale":{"domain":[80,240],"nice":false,"zero":false},"axis":{"orient":"top","values":[80,100,120,140,160,180,200,220,240],"labels":false,"title":null,"tickSize":-4,"tickColor":"#777","domain":false}},
"y":{"field":"y","type":"quantitative","scale":{"domain":[0,40],"nice":false},"axis":{"orient":"right","values":[0,5,10,15,20,25,30,35,40],"labels":false,"title":null,"tickSize":-4,"tickColor":"#777","domain":false}},
"color":{"field":"g","type":"nominal","scale":{"domain":["Genome","DE genes"],"range":["#ee4433","#5b63d9"]},"legend":null}}},
{"data":{"values":[{"t":"Number of pseudoclusters"}]},"mark":{"type":"text","angle":270,"fontSize":10,"font":"Lato","align":"center","baseline":"middle","color":"#333"},
"encoding":{"text":{"field":"t"},"x":{"datum":67.9,"type":"quantitative","scale":{"domain":[80,240],"nice":false,"zero":false},"axis":null},"y":{"datum":20,"type":"quantitative","scale":{"domain":[0,40],"nice":false},"axis":null}}},
{"data":{"values":[{"t":"Genome"},{"t":"DE genes"}]},
"encoding":{"x":{"datum":191.5,"type":"quantitative","scale":{"domain":[80,240],"nice":false,"zero":false},"axis":null},"y":{"field":"t","type":"nominal","scale":{"type":"point","padding":0,"domain":["Genome","DE genes"],"range":[9,21]},"axis":null}},
"layer":[
{"mark":{"type":"text","font":"Lato","fontSize":9.5,"align":"left","baseline":"middle","color":"#333"},"encoding":{"text":{"field":"t"}}},
{"mark":{"type":"rule","strokeWidth":1.5},"encoding":{"x":{"datum":214.5,"type":"quantitative"},"x2":{"datum":223.0},"color":{"field":"t","type":"nominal","scale":{"domain":["Genome","DE genes"],"range":["#ee4433","#5b63d9"]},"legend":null}}},
{"mark":{"type":"rule","strokeWidth":1.5},"encoding":{"x":{"datum":226.1,"type":"quantitative"},"x2":{"datum":234.5},"stroke":{"field":"t","type":"nominal","scale":{"domain":["Genome","DE genes"],"range":["#e0874f","#58aaf5"]},"legend":null}}}
]}
],
"resolve":{"scale":{"y":"independent"}}}
]}
],"spacing":16.6}
]
}
